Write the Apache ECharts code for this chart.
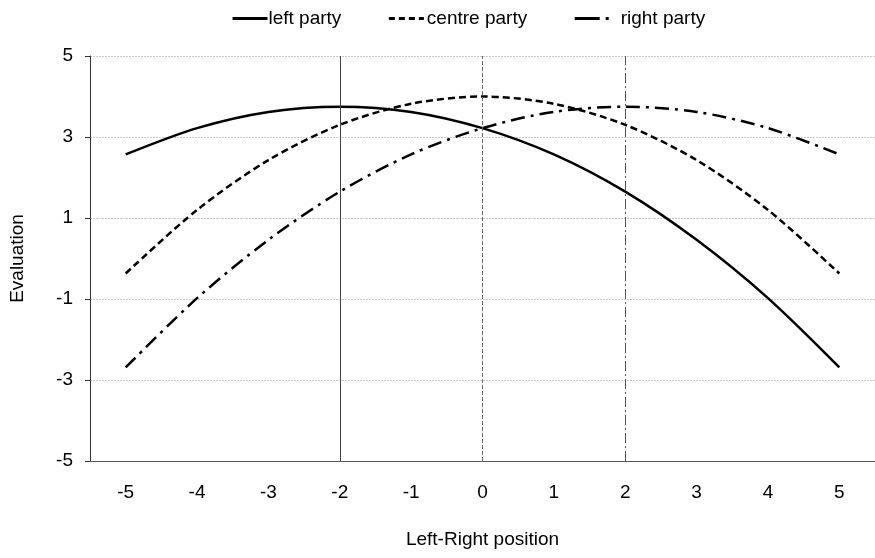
<!DOCTYPE html>
<html>
<head>
<meta charset="utf-8">
<script src="https://cdn.jsdelivr.net/npm/echarts@6/dist/echarts.min.js"></script>
<style>
html,body{margin:0;padding:0;background:#fff;}
#chart{width:875px;height:558px;}
</style>
</head>
<body>
<div id="chart"></div>
<script>
var categories = ['-5','-4','-3','-2','-1','0','1','2','3','4','5'];
var leftParty = [2.57, 3.22, 3.62, 3.75, 3.62, 3.22, 2.57, 1.65, 0.46, -0.98, -2.69];
var centreParty = [-0.37, 1.2, 2.43, 3.3, 3.82, 4.0, 3.82, 3.3, 2.43, 1.2, -0.37];
var rightParty = [-2.69, -0.98, 0.46, 1.65, 2.57, 3.22, 3.62, 3.75, 3.62, 3.22, 2.57];
var yTicks = [-5, -3, -1, 1, 3, 5];
var partyPositions = ['-2', '0', '2'];

var font = 'Liberation Sans, Arial, sans-serif';
var fs = 19;
var chart = echarts.init(document.getElementById('chart'));
chart.setOption({
  animation: false,
  backgroundColor: '#fff',
  textStyle: {fontFamily: font},
  legend: {
    top: 9,
    left: 231,
    itemWidth: 35,
    itemHeight: 14,
    itemGap: 46,
    padding: 0,
    itemStyle: {color: 'rgba(0,0,0,0)', borderWidth: 0, opacity: 0},
    textStyle: {fontFamily: font, fontSize: fs, color: '#000', padding: [0, 0, 0, -4]},
    data: [
      {name: 'left party', lineStyle: {width: 3, type: 'solid'}},
      {name: 'centre party', lineStyle: {width: 3, type: [6, 4]}, textStyle: {padding: [0, 0, 0, -2]}},
      {name: 'right party', lineStyle: {width: 3, type: [25, 6, 3, 20]}, textStyle: {padding: [0, 0, 0, 6]}}
    ]
  },
  grid: {left: 88, right: -3, top: 56, bottom: 97, containLabel: false},
  xAxis: {
    type: 'category',
    data: categories,
    boundaryGap: true,
    name: 'Left-Right position',
    nameLocation: 'middle',
    nameGap: 69,
    nameTextStyle: {fontFamily: font, fontSize: fs, color: '#000'},
    axisLine: {onZero: false, lineStyle: {color: '#555', width: 1}},
    axisTick: {show: false},
    axisLabel: {fontFamily: font, fontSize: fs, color: '#000', margin: 22},
    splitLine: {show: false}
  },
  yAxis: {
    type: 'value',
    min: -5, max: 5, interval: 2,
    name: 'Evaluation',
    nameLocation: 'middle',
    nameGap: 63,
    nameTextStyle: {fontFamily: font, fontSize: fs, color: '#000'},
    axisLine: {show: true, lineStyle: {color: '#333', width: 1}},
    axisTick: {show: true, length: 5, lineStyle: {color: '#333'}},
    axisLabel: {fontFamily: font, fontSize: fs, color: '#000', margin: 17,
      formatter: function (v) { return yTicks.indexOf(v) >= 0 ? String(v) : ''; }},
    splitLine: {show: true, lineStyle: {color: '#c8c8c8', width: 1, type: [2, 1]}}
  },
  series: [
    {
      name: 'left party', type: 'line', data: leftParty, smooth: 0.3,
      symbol: 'none', lineStyle: {color: '#000', width: 2.5, type: 'solid'},
      itemStyle: {color: '#000'},
      markLine: {
        silent: true, symbol: 'none', label: {show: false},
        data: [
          {xAxis: partyPositions[0], lineStyle: {color: '#444', width: 1, type: 'solid'}},
          {xAxis: partyPositions[1], lineStyle: {color: '#666', width: 1, type: [4, 2]}},
          {xAxis: partyPositions[2], lineStyle: {color: '#555', width: 1, type: [10, 3, 2, 3]}}
        ]
      }
    },
    {
      name: 'centre party', type: 'line', data: centreParty, smooth: 0.3,
      symbol: 'none', lineStyle: {color: '#000', width: 2.5, type: [7, 4]},
      itemStyle: {color: '#000'}
    },
    {
      name: 'right party', type: 'line', data: rightParty, smooth: 0.3,
      symbol: 'none', lineStyle: {color: '#000', width: 2.5, type: [14, 6, 3, 6]},
      itemStyle: {color: '#000'}
    }
  ]
});
</script>
</body>
</html>
